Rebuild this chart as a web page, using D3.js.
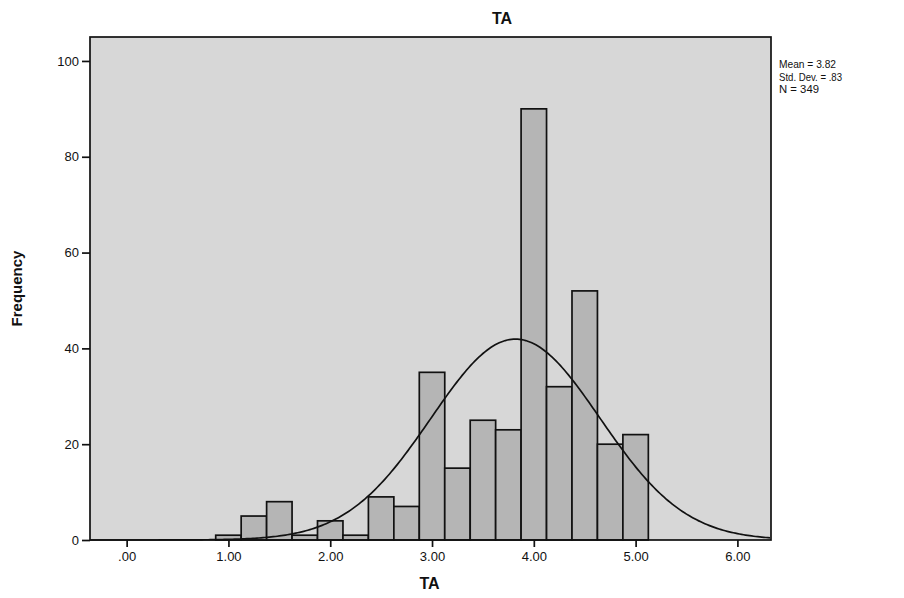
<!DOCTYPE html>
<html>
<head>
<meta charset="utf-8">
<script src="https://cdn.jsdelivr.net/npm/d3@7"></script>
<style>
  body { margin: 0; background: #fff; }
  text { font-family: Arial, "Liberation Sans", sans-serif; fill: #111; }
</style>
</head>
<body>
<svg id="chart" width="904" height="598"></svg>
<script>
// histogram of TA, bins of width .25
var binMids = [1.00, 1.25, 1.50, 1.75, 2.00, 2.25, 2.50, 2.75, 3.00, 3.25, 3.50, 3.75, 4.00, 4.25, 4.50, 4.75, 5.00];
var freqs   = [1, 5, 8, 1, 4, 1, 9, 7, 35, 15, 25, 23, 90, 32, 52, 20, 22];
var binWidth = 0.25;

var xTicks = [0, 1, 2, 3, 4, 5, 6];
var yTicks = [0, 20, 40, 60, 80, 100];

var statLabels = ["Mean = 3.82", "Std. Dev. = .83", "N = 349"];
var mean = 3.82, sd = 0.83, n = 349;

var margin = {top: 37, left: 90, right: 133, bottom: 58},
    width = 904 - margin.left - margin.right,
    height = 598 - margin.top - margin.bottom;

var svg = d3.select("#chart");
var g = svg.append("g")
    .attr("transform", "translate(" + margin.left + "," + margin.top + ")");

var x = d3.scaleLinear().domain([-0.36, 6.33]).range([0, width]);
var y = d3.scaleLinear().domain([0, 105]).range([height, 0]);

// plot background
g.append("rect")
    .attr("width", width)
    .attr("height", height)
    .attr("fill", "#d7d7d7");

// bars
g.selectAll(".bar")
    .data(binMids)
  .enter().append("rect")
    .attr("class", "bar")
    .attr("x", function(d) { return x(d - binWidth / 2); })
    .attr("width", function(d) { return x(d + binWidth / 2) - x(d - binWidth / 2); })
    .attr("y", function(d, i) { return y(freqs[i]); })
    .attr("height", function(d, i) { return height - y(freqs[i]); })
    .attr("fill", "#b5b5b5")
    .attr("stroke", "#111")
    .attr("stroke-width", 1.7);

// normal curve
var curveX = d3.range(x.domain()[0], x.domain()[1] + 0.001, 0.02);
var norm = function(v) {
  return n * binWidth / (sd * Math.sqrt(2 * Math.PI)) * Math.exp(-0.5 * Math.pow((v - mean) / sd, 2));
};
g.append("path")
    .datum(curveX)
    .attr("fill", "none")
    .attr("stroke", "#111")
    .attr("stroke-width", 1.7)
    .attr("d", d3.line()
      .x(function(d) { return x(d); })
      .y(function(d) { return y(norm(d)); }));

// frame
g.append("rect")
    .attr("width", width)
    .attr("height", height)
    .attr("fill", "none")
    .attr("stroke", "#111")
    .attr("stroke-width", 1.7);

var fmt = function(d) { return d3.format(".2f")(d).replace(/^0/, ""); };

var xAxis = g.append("g")
    .attr("transform", "translate(0," + height + ")")
    .call(d3.axisBottom(x).tickValues(xTicks).tickFormat(fmt).tickSizeOuter(0).tickSize(7).tickPadding(5));

var yAxis = g.append("g")
    .call(d3.axisLeft(y).tickValues(yTicks).tickSizeOuter(0).tickSize(8).tickPadding(3));

[xAxis, yAxis].forEach(function(a) {
  a.select(".domain").remove();
  a.selectAll("line").attr("stroke", "#111").attr("stroke-width", 1.7);
  a.selectAll("text").attr("font-size", 13).attr("fill", "#111")
    .style("font-family", "Arial, 'Liberation Sans', sans-serif");
});

// titles
svg.append("text")
    .attr("x", 502).attr("y", 24)
    .attr("text-anchor", "middle")
    .attr("font-size", 16).attr("font-weight", "bold")
    .text("TA");

svg.append("text")
    .attr("x", margin.left + width / 2 - 1).attr("y", 589)
    .attr("text-anchor", "middle")
    .attr("font-size", 16).attr("font-weight", "bold")
    .text("TA");

svg.append("text")
    .attr("transform", "translate(22," + (margin.top + height / 2) + ") rotate(-90)")
    .attr("text-anchor", "middle")
    .attr("font-size", 15).attr("font-weight", "bold")
    .text("Frequency");

// stats box
svg.append("g")
    .attr("transform", "translate(779,68)")
  .selectAll("text")
    .data(statLabels)
  .enter().append("text")
    .attr("y", function(d, i) { return i * 12.5; })
    .attr("font-size", 11)
    .attr("textLength", function(d, i) { return [57, 63, 40][i]; })
    .attr("lengthAdjust", "spacingAndGlyphs")
    .text(function(d) { return d; });
</script>
</body>
</html>
